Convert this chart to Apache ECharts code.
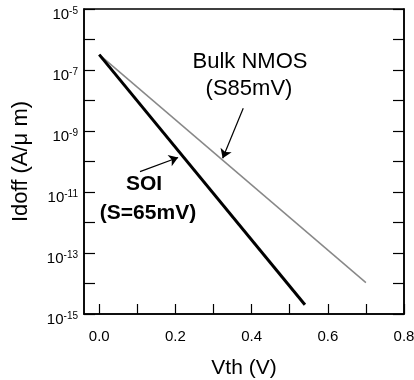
<!DOCTYPE html>
<html>
<head>
<meta charset="utf-8">
<script src="https://cdn.jsdelivr.net/npm/echarts@6/dist/echarts.min.js"></script>
<style>html,body{margin:0;padding:0;background:#fff;}#c{width:414px;height:380px;}</style>
</head>
<body>
<div id="c"></div>
<script>
// Data
var soiVth = [0.0, 0.54];
var soiIoff = [3.2e-7, 2.0e-15];
var bulkVth = [0.0, 0.70];
var bulkIoff = [3.2e-7, 1.07e-14];
var xTicks = [0, 0.1, 0.2, 0.3, 0.4, 0.5, 0.6, 0.7, 0.8];
var xLabels = [0, 0.2, 0.4, 0.6, 0.8];
var yTicks = [1e-15, 1e-14, 1e-13, 1e-12, 1e-11, 1e-10, 1e-9, 1e-8, 1e-7, 1e-6, 1e-5];
var yLabels = [1e-15, 1e-13, 1e-11, 1e-9, 1e-7, 1e-5];
// annotation arrows [from, to] in data coordinates
var bulkArrow = [[0.378, Math.pow(10, -8.256)], [0.324, Math.pow(10, -9.895)]];
var soiArrow = [[0.107, Math.pow(10, -10.33)], [0.207, Math.pow(10, -9.87)]];

var FONT = '"Liberation Sans", Arial, Helvetica, sans-serif';
function pts(xs, ys) { return xs.map(function (x, i) { return [x, ys[i]]; }); }

var chart = echarts.init(document.getElementById('c'));
var yAxisBase = {
  type: 'log', logBase: 10, min: 1e-15, max: 1e-5,
  axisLine: { show: true, onZero: false, lineStyle: { color: '#000', width: 1.5 } },
  axisTick: { show: true, inside: true, length: 11, customValues: yTicks, lineStyle: { color: '#000', width: 1.2 } },
  splitLine: { show: false },
  minorTick: { show: false }
};
var arrowMark = function (arr) {
  return {
    silent: true, symbol: ['none', 'arrow'], symbolSize: 9,
    lineStyle: { color: '#000', width: 1.2, type: 'solid' }, label: { show: false },
    data: [[{ coord: arr[0] }, { coord: arr[1] }]]
  };
};
chart.setOption({
  animation: false,
  backgroundColor: '#fff',
  grid: { left: 84, right: 10, top: 9, bottom: 66, containLabel: false, outerBoundsMode: 'none',
    show: true, borderColor: '#000', borderWidth: 1.5, backgroundColor: 'transparent' },
  xAxis: {
    type: 'value', min: -0.04, max: 0.8,
    name: 'Vth (V)', nameLocation: 'middle', nameGap: 44,
    nameTextStyle: { fontFamily: FONT, fontSize: 21, color: '#000' },
    axisLine: { show: true, onZero: false, lineStyle: { color: '#000', width: 1.5 } },
    axisTick: { show: true, inside: true, length: 10, customValues: xTicks, lineStyle: { color: '#000', width: 1.2 } },
    axisLabel: { customValues: xLabels, margin: 15, fontFamily: FONT, fontSize: 15, color: '#000',
      formatter: function (v) { return v.toFixed(1); } },
    splitLine: { show: false }
  },
  yAxis: [
    Object.assign({}, yAxisBase, {
      position: 'left',
      name: 'Idoff (A/\u03bc m)', nameLocation: 'middle', nameGap: 52,
      nameTextStyle: { fontFamily: FONT, fontSize: 22, color: '#000' },
      axisLabel: {
        customValues: yLabels, margin: 6, fontFamily: FONT, color: '#000',
        padding: [12, 0, 0, 0],
        formatter: function (v) { return '{b|10}{s|' + Math.round(Math.log10(v)) + '}'; },
        rich: {
          b: { fontFamily: FONT, fontSize: 15, color: '#000' },
          s: { fontFamily: FONT, fontSize: 10, color: '#000', padding: [0, 0, 8, 0] }
        }
      }
    }),
    Object.assign({}, yAxisBase, { position: 'right', axisLabel: { show: false } })
  ],
  series: [
    {
      name: 'Bulk NMOS', type: 'line', yAxisIndex: 0, showSymbol: false, symbol: 'none',
      data: pts(bulkVth, bulkIoff), lineStyle: { color: '#888', width: 1.5 },
      markLine: arrowMark(bulkArrow)
    },
    {
      name: 'SOI', type: 'line', yAxisIndex: 0, showSymbol: false, symbol: 'none',
      data: pts(soiVth, soiIoff), lineStyle: { color: '#000', width: 3 },
      markLine: arrowMark(soiArrow)
    }
  ],
  graphic: [
    { type: 'text', style: { x: 250, y: 62, text: 'Bulk NMOS', font: '22px ' + FONT, fill: '#000', align: 'center', verticalAlign: 'middle' } },
    { type: 'text', style: { x: 249, y: 89, text: '(S85mV)', font: '22px ' + FONT, fill: '#000', align: 'center', verticalAlign: 'middle' } },
    { type: 'text', style: { x: 144, y: 184, text: 'SOI', font: 'bold 21px ' + FONT, fill: '#000', align: 'center', verticalAlign: 'middle' } },
    { type: 'text', style: { x: 148, y: 213, text: '(S=65mV)', font: 'bold 21px ' + FONT, fill: '#000', align: 'center', verticalAlign: 'middle' } }
  ]
});
</script>
</body>
</html>
